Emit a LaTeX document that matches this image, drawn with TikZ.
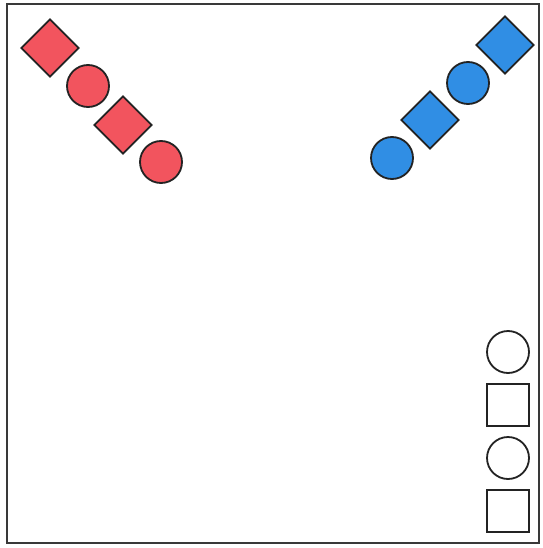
\documentclass[tikz,border=0pt]{standalone}
\usetikzlibrary{shapes.geometric}
\definecolor{redf}{RGB}{242,84,94}
\definecolor{bluef}{RGB}{48,142,228}
\definecolor{edge}{RGB}{35,35,35}
\begin{document}
\begin{tikzpicture}[x=1pt,y=-1pt,
  dia/.style={diamond,draw=edge,line width=1.8pt,minimum width=58pt,minimum height=58pt,inner sep=0pt},
  circ/.style={circle,draw=edge,line width=1.8pt,minimum size=42pt,inner sep=0pt},
  sq/.style={rectangle,draw=edge,line width=1.8pt,minimum size=42pt,inner sep=0pt},
  frame/.style={draw=edge!90,line width=2.5pt}]
\useasboundingbox (0,0) rectangle (542,548);
\draw[frame] (7,4) rectangle (539,543);
% red
\node[dia,fill=redf] (r1) at (50,48) {};
\node[circ,fill=redf] (r2) at (88,86) {};
\node[dia,fill=redf] (r3) at (123,125) {};
\node[circ,fill=redf] (r4) at (161,162) {};
% blue
\node[dia,fill=bluef] (b1) at (505,45) {};
\node[circ,fill=bluef] (b2) at (468,83) {};
\node[dia,fill=bluef] (b3) at (430,120) {};
\node[circ,fill=bluef] (b4) at (392,158) {};
% white
\node[circ,fill=white] (w1) at (508,352) {};
\node[sq,fill=white] (w2) at (508,405) {};
\node[circ,fill=white] (w3) at (508,458) {};
\node[sq,fill=white] (w4) at (508,511) {};
\end{tikzpicture}
\end{document}
